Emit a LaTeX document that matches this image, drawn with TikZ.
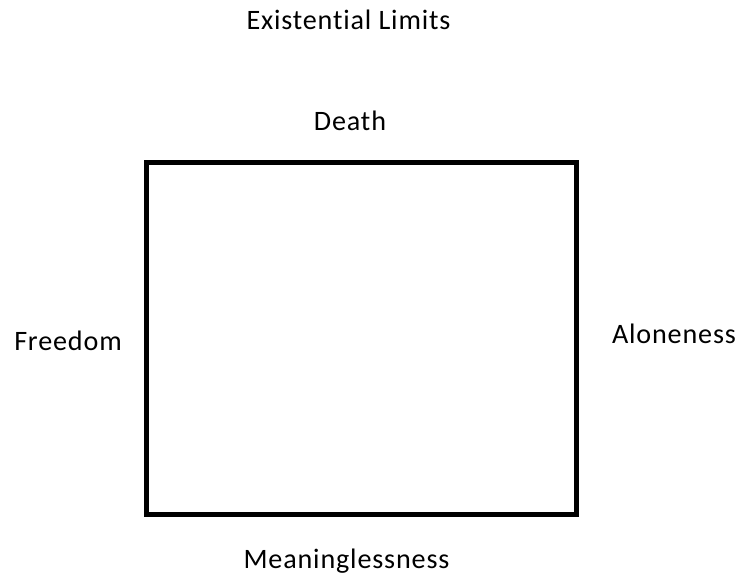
\documentclass[tikz,border=0pt]{standalone}
\usepackage{fontspec}
\setmainfont{Carlito}[Ligatures=NoCommon, LetterSpace=3]
\begin{document}
\begin{tikzpicture}[
    x=0.025cm, y=-0.025cm,
    limlabel/.style={anchor=base, inner sep=0pt, font=\fontsize{20}{24}\selectfont},
    limbox/.style={draw=black, line width=0.125cm}
]
\useasboundingbox (0,0) rectangle (742,575);

% Title
\node[limlabel] (title) at (348.5, 29) {Existential Limits};

% The box and its four sides
\draw[limbox] (146.5, 162.5) rectangle (576, 514);
\node[limlabel] (death)   at (350, 130) {Death};
\node[limlabel] (freedom) at (68, 350)  {Freedom};
\node[limlabel] (alone)   at (674, 343) {Aloneness};
\node[limlabel] (meaning) at (346.5, 568) {Meaninglessness};

\end{tikzpicture}
\end{document}
